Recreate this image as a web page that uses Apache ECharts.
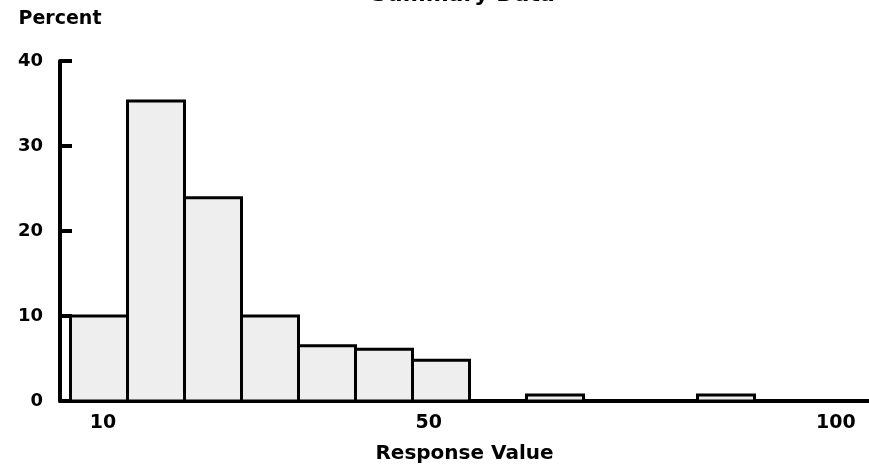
<!DOCTYPE html>
<html>
<head>
<meta charset="utf-8">
<script src="https://cdn.jsdelivr.net/npm/echarts@6/dist/echarts.min.js"></script>
<style>
  html, body { margin: 0; padding: 0; background: #ffffff; }
  #chart { width: 869px; height: 465px; }
</style>
</head>
<body>
<div id="chart"></div>
<script>
// Histogram bins (lower / upper edge of each class) and percent of observations
const binLow  = [6, 13, 20, 27, 34, 41, 48, 62, 83];
const binHigh = [13, 20, 27, 34, 41, 48, 55, 69, 90];
const percent = [10, 35.3, 23.9, 10, 6.5, 6.1, 4.8, 0.7, 0.7];

// Axis labelling
const xTickValues = [10, 50, 100];
const yTickValues = [0, 10, 20, 30, 40];

const FONT = '"DejaVu Sans", "Liberation Sans", sans-serif';

const source = binLow.map((lo, i) => [lo, binHigh[i], percent[i]]);

const chart = echarts.init(document.getElementById('chart'), null, { renderer: 'canvas' });

chart.setOption({
  animation: false,
  backgroundColor: '#ffffff',
  title: {
    text: 'Summary Data',
    left: 458,
    textAlign: 'center',
    top: -21,
    textStyle: { fontFamily: FONT, fontWeight: 'bold', fontSize: 22, color: '#000' }
  },
  grid: { left: 60, right: 0, top: 61, bottom: 64, containLabel: false, outerBoundsMode: 'none' },
  dataset: { source: source },
  xAxis: {
    type: 'value',
    min: 4.71,
    max: 104.06,
    name: 'Response Value',
    nameLocation: 'middle',
    nameGap: 43,
    nameTextStyle: { fontFamily: FONT, fontWeight: 'bold', fontSize: 20, color: '#000' },
    axisLine: { show: true, lineStyle: { color: '#000', width: 4 } },
    axisTick: { show: false },
    splitLine: { show: false },
    axisLabel: {
      customValues: xTickValues,
      margin: 13,
      fontFamily: FONT, fontWeight: 'bold', fontSize: 19, color: '#000'
    }
  },
  yAxis: {
    type: 'value',
    min: 0,
    max: 40,
    interval: 10,
    name: 'Percent',
    nameLocation: 'end',
    nameGap: 32,
    nameTextStyle: { fontFamily: FONT, fontWeight: 'bold', fontSize: 19, color: '#000', align: 'center' },
    axisLine: { show: true, lineStyle: { color: '#000', width: 4 } },
    axisTick: { show: true, inside: true, length: 12, lineStyle: { color: '#000', width: 4 }, customValues: yTickValues },
    splitLine: { show: false },
    axisLabel: {
      customValues: yTickValues,
      margin: 17,
      fontFamily: FONT, fontWeight: 'bold', fontSize: 18, color: '#000'
    }
  },
  series: [{
    type: 'custom',
    encode: { x: [0, 1], y: 2 },
    renderItem: function (params, api) {
      const topLeft = api.coord([api.value(0), api.value(2)]);
      const bottomRight = api.coord([api.value(1), 0]);
      return {
        type: 'rect',
        shape: {
          x: topLeft[0],
          y: topLeft[1],
          width: bottomRight[0] - topLeft[0],
          height: bottomRight[1] - topLeft[1]
        },
        style: { fill: '#eeeeee', stroke: '#000000', lineWidth: 3 }
      };
    }
  }]
});
</script>
</body>
</html>
